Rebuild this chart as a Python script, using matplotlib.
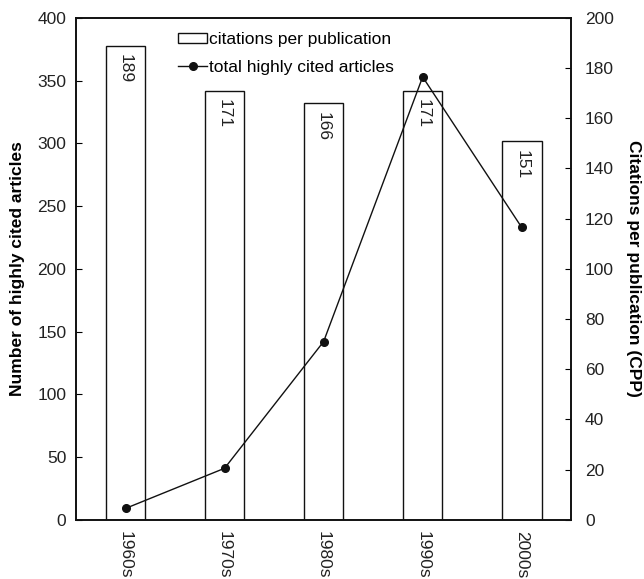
import matplotlib
matplotlib.use("Agg")
import matplotlib.pyplot as plt
from matplotlib.lines import Line2D
from matplotlib.patches import Patch

plt.rcParams['font.family'] = ['Liberation Sans', 'DejaVu Sans']

decades = ["1960s", "1970s", "1980s", "1990s", "2000s"]
cpp = [189, 171, 166, 171, 151]
articles = [9, 41, 142, 353, 233]

FS = 12.5
TXT = '#222222'

fig = plt.figure(figsize=(6.44, 5.79), dpi=100)
ax = fig.add_axes([0.118, 0.1024, 0.769, 0.8666])
ax2 = ax.twinx()

x = list(range(len(decades)))

# bars on right axis
ax2.bar(x, cpp, width=0.4, facecolor='white', edgecolor='#111111', linewidth=1.0, zorder=1)
for xi, v in zip(x, cpp):
    ax2.text(xi, v - 3.5, str(v), rotation=270, ha='center', va='top', fontsize=FS, color=TXT)

# line on left axis (drawn on top)
ax.set_zorder(ax2.get_zorder() + 1)
ax.patch.set_visible(False)
ax.plot(x, articles, color='#111111', linewidth=1.0, marker='o', markersize=5.5, zorder=3)

ax.set_xlim(-0.5, 4.5)
ax.set_ylim(0, 400)
ax2.set_ylim(0, 200)
ax.set_yticks(range(0, 401, 50))
ax2.set_yticks(range(0, 201, 20))
ax.set_xticks(x)
ax.set_xticklabels(decades, rotation=270, fontsize=FS, color=TXT)
ax.tick_params(axis='x', length=0, pad=8)
ax.tick_params(axis='y', direction='in', length=4, labelsize=FS, labelcolor=TXT, pad=7)
ax2.tick_params(axis='y', direction='in', length=4, labelsize=FS, labelcolor=TXT, pad=10)

ax.set_ylabel("Number of highly cited articles", fontsize=FS, fontweight='bold', labelpad=9)
ax2.set_ylabel("Citations per publication (CPP)", fontsize=FS, fontweight='bold', rotation=270, labelpad=19)

for a in (ax, ax2):
    for s in a.spines.values():
        s.set_linewidth(1.2)
        s.set_color('#111111')

handles = [Patch(facecolor='white', edgecolor='#111111', linewidth=1.0),
           Line2D([0], [0], color='#111111', marker='o', markersize=5.5, linewidth=1.0)]
labels = ["citations per publication", "total highly cited articles"]
ax.legend(handles, labels, loc='upper left', bbox_to_anchor=(0.183, 0.995), frameon=False,
          fontsize=FS, handlelength=1.7, handletextpad=0.1, borderaxespad=0.25, labelspacing=0.75,
          handleheight=0.5)

fig.savefig("out.png", dpi=100)
